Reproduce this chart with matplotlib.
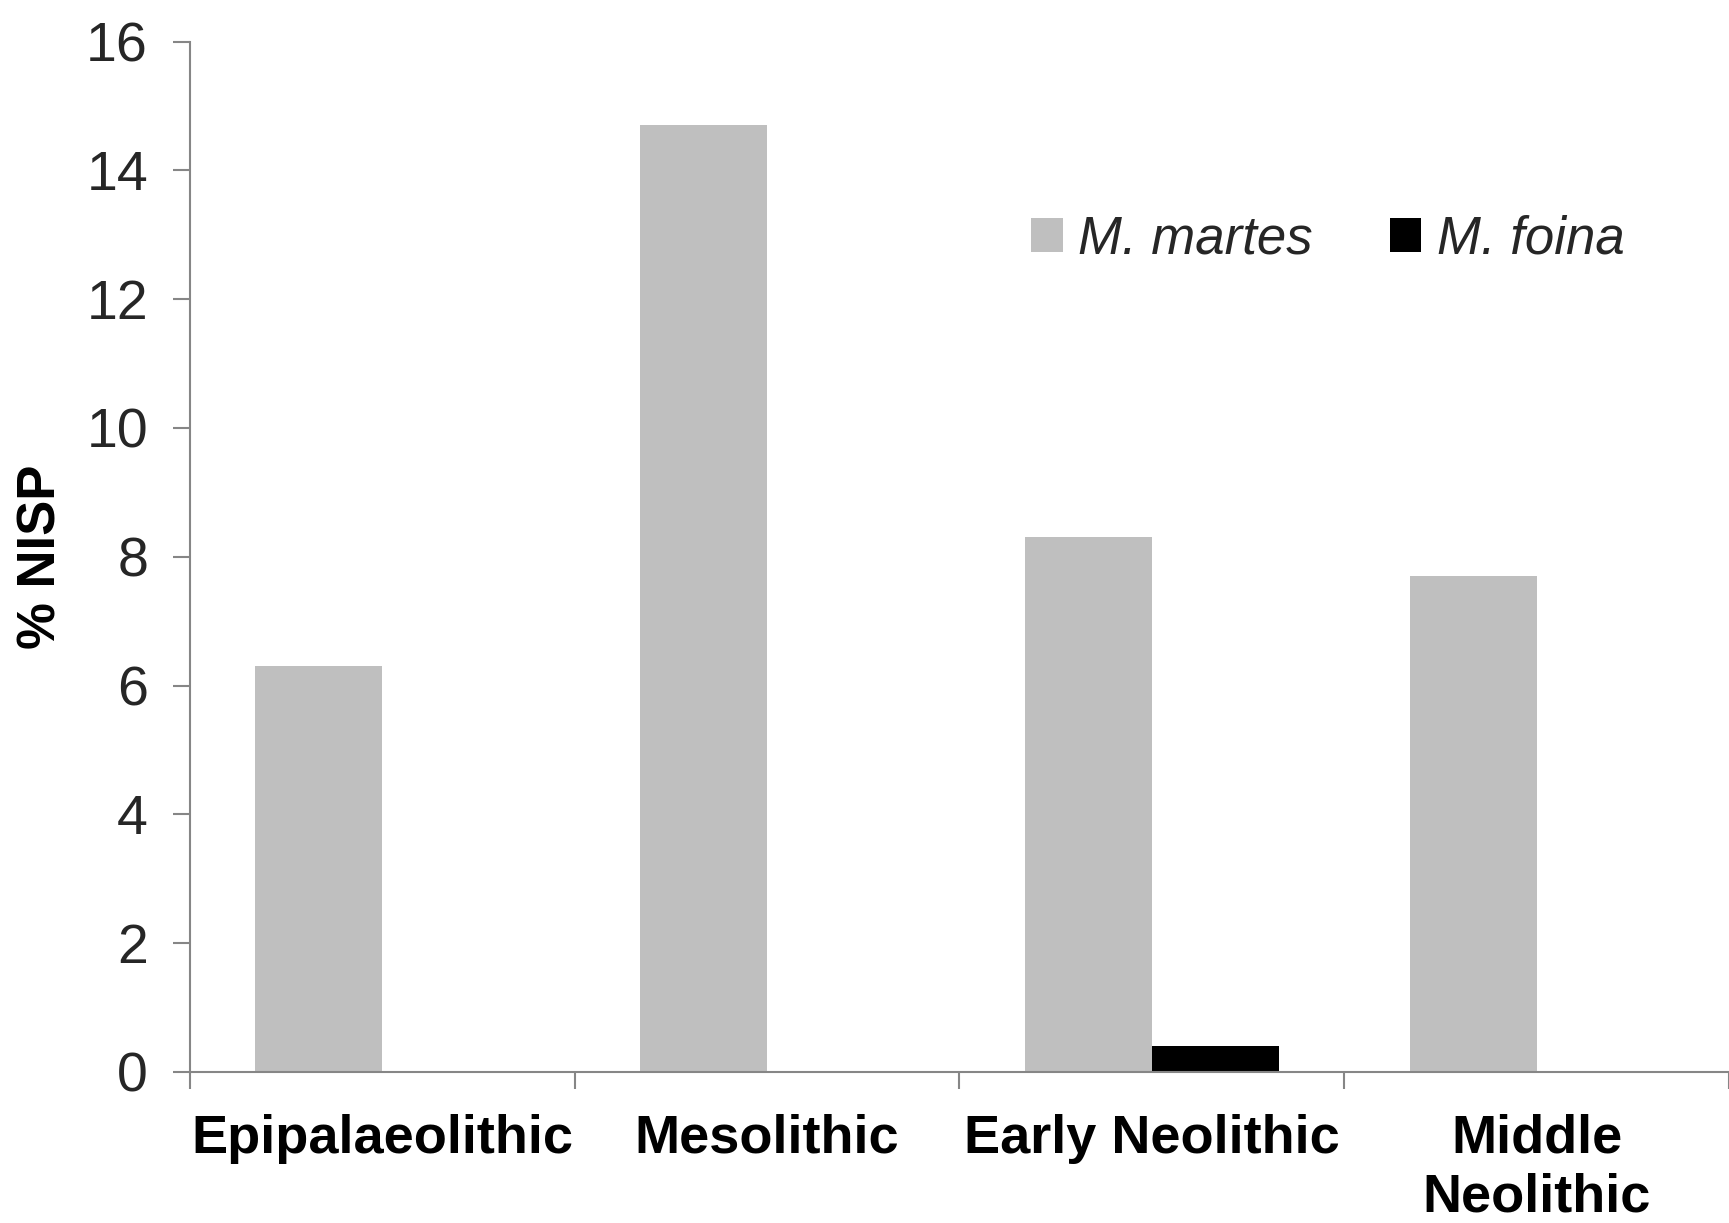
import numpy as np
import matplotlib
matplotlib.use("Agg")
import matplotlib.pyplot as plt
from matplotlib.patches import Patch

# Data (% NISP)
periods = ["Epipalaeolithic", "Mesolithic", "Early Neolithic", "Middle\nNeolithic"]
martes = [6.3, 14.7, 8.3, 7.7]
foina = [0.0, 0.0, 0.4, 0.0]
y_ticks = [0, 2, 4, 6, 8, 10, 12, 14, 16]

plt.rcParams["font.family"] = ["Liberation Sans", "DejaVu Sans"]

fig = plt.figure(figsize=(17.29, 12.23), dpi=100)
ax = fig.add_axes([0.1097, 0.1235, 0.8903, 0.8425])

x = np.arange(len(periods)) + 0.5
width = 0.33
ax.bar(x - width / 2, martes, width, color="#bfbfbf", linewidth=0)
ax.bar(x + width / 2, foina, width, color="#000000", linewidth=0)

ax.set_xlim(0, len(periods))
ax.set_ylim(0, 16)
ax.set_yticks(y_ticks)
ax.tick_params(axis="y", labelsize=40, labelcolor="#262626", color="#868686",
               length=12, width=1.5, direction="out", pad=18)

# category boundary ticks on x axis, labels centred in between
ax.set_xticks(np.arange(len(periods) + 1))
ax.set_xticklabels([])
ax.tick_params(axis="x", color="#868686", length=12, width=1.5, direction="out")
ax.set_xticks(x, minor=True)
ax.set_xticklabels(periods, minor=True, fontsize=39, fontweight="bold",
                   linespacing=1.22)
ax.tick_params(axis="x", which="minor", length=0, pad=30)

for side in ["top", "right"]:
    ax.spines[side].set_visible(False)
for side in ["left", "bottom"]:
    ax.spines[side].set_color("#868686")
    ax.spines[side].set_linewidth(1.5)

ax.set_ylabel("% NISP", fontsize=38, fontweight="bold", labelpad=14)

handles = [Patch(facecolor="#bfbfbf", label="M. martes"),
           Patch(facecolor="#000000", label="M. foina")]
fig.legend(handles=handles, loc="center", bbox_to_anchor=(0.768, 0.804), ncol=2,
           frameon=False, prop={"size": 38, "style": "italic"},
           handlelength=0.6, handleheight=0.6, handletextpad=0.3,
           columnspacing=1.45, labelcolor="#262626")

fig.savefig("out.png", dpi=100)
